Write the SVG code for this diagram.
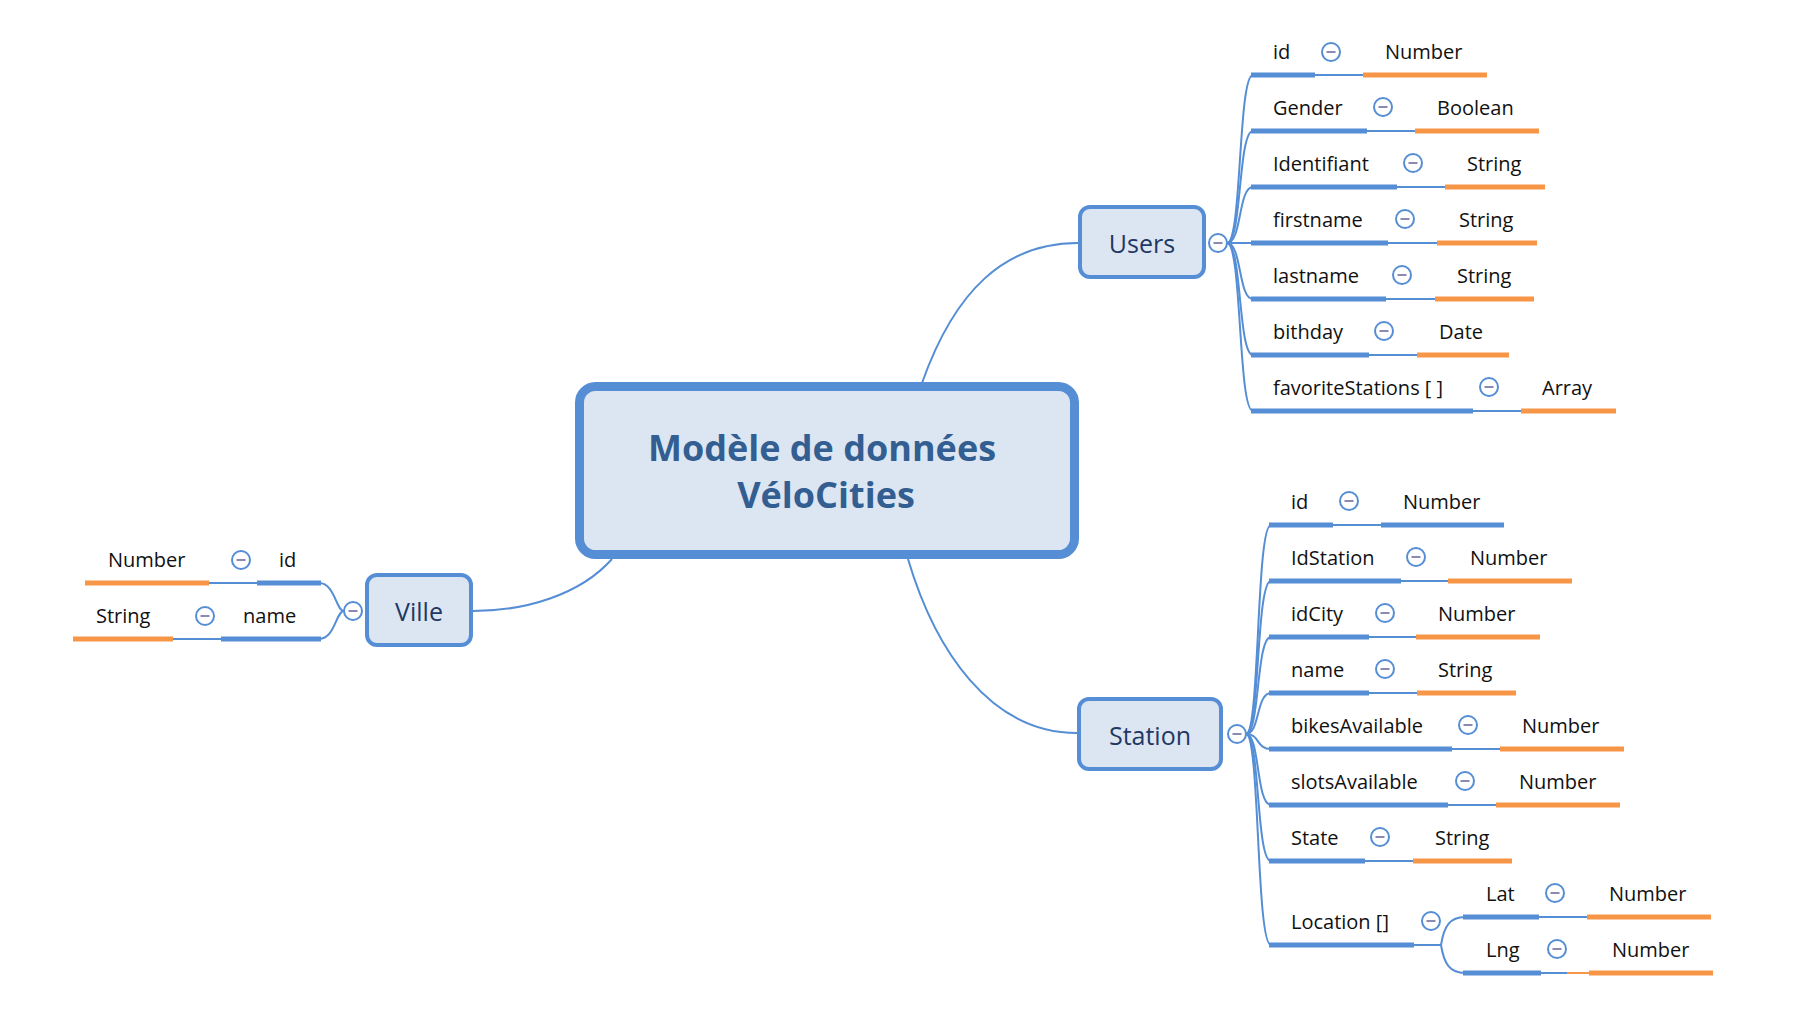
<svg xmlns="http://www.w3.org/2000/svg" xmlns:xlink="http://www.w3.org/1999/xlink" width="1814" height="1028" viewBox="0 0 1814 1028">
<style>
.bg{fill:#ffffff}
.con{fill:none;stroke:#558ED5;stroke-width:2}
.thin{stroke:#558ED5;stroke-width:2}
.thinO{stroke:#F79646;stroke-width:2}
.kb{stroke:#558ED5;stroke-width:5}
.vb{stroke:#F79646;stroke-width:5}
.box{fill:#DCE6F2;stroke:#558ED5}
.t{font-family:"Open Sans","Liberation Sans",sans-serif;font-size:20px;fill:#111111}
.nt{font-family:"Open Sans","Liberation Sans",sans-serif;font-size:25px;fill:#1F3864;text-anchor:middle}
.ct{font-family:"Open Sans","Liberation Sans",sans-serif;font-size:36px;font-weight:bold;fill:#335E91;text-anchor:middle}
</style>
<defs>
<g id="mc">
<circle cx="0" cy="0" r="9" fill="#ffffff" stroke="#558ED5" stroke-width="2"/>
<line x1="-4.5" y1="0" x2="4.5" y2="0" stroke="#8A8AB5" stroke-width="2"/>
</g>
</defs>
<rect class="bg" x="0" y="0" width="1814" height="1028"/>

<g id="connectors">
<path class="con" d="M922,383 C955,290 1005,243 1078,243"/>
<path class="con" d="M908,559 C935,650 990,733 1077,733"/>
<path class="con" d="M612,559 C580,595 525,611 473,611"/>
<!-- Users children -->
<path class="con" d="M1227,243 C1242,243 1238,75 1253,75"/>
<path class="con" d="M1227,243 C1242,243 1238,131 1253,131"/>
<path class="con" d="M1227,243 C1242,243 1238,187 1253,187"/>
<path class="con" d="M1227,243 L1253,243"/>
<path class="con" d="M1227,243 C1242,243 1238,299 1253,299"/>
<path class="con" d="M1227,243 C1242,243 1238,355 1253,355"/>
<path class="con" d="M1227,243 C1242,243 1238,411 1253,411"/>
<!-- Station children -->
<path class="con" d="M1246,734 C1260,734 1256,525 1271,525"/>
<path class="con" d="M1246,734 C1260,734 1256,581 1271,581"/>
<path class="con" d="M1246,734 C1260,734 1256,637 1271,637"/>
<path class="con" d="M1246,734 C1260,734 1256,693 1271,693"/>
<path class="con" d="M1246,734 C1260,734 1256,749 1271,749"/>
<path class="con" d="M1246,734 C1260,734 1256,805 1271,805"/>
<path class="con" d="M1246,734 C1260,734 1256,861 1271,861"/>
<path class="con" d="M1246,734 C1260,734 1256,945 1271,945"/>
<!-- Location children -->
<path class="con" d="M1414,945 L1441,945 C1444,926 1450,917 1465,917"/>
<path class="con" d="M1441,945 C1444,964 1450,973 1465,973"/>
<!-- Ville children -->
<path class="con" d="M319,583 C335,583 336,611 344,611"/>
<path class="con" d="M319,639 C335,639 336,611 344,611"/>
</g>

<g id="central">
<rect class="box" x="579.5" y="386.5" width="495" height="168" rx="16" stroke-width="9"/>
<text class="ct" x="822" y="461">Modèle de données</text>
<text class="ct" x="826" y="508">VéloCities</text>
</g>

<g id="users">
<rect class="box" x="1080" y="207" width="124" height="70" rx="10" stroke-width="4"/>
<text class="nt" x="1142" y="253">Users</text>
<use xlink:href="#mc" href="#mc" x="1218" y="243"/>
</g>

<g id="station">
<rect class="box" x="1079" y="699" width="142" height="70" rx="10" stroke-width="4"/>
<text class="nt" x="1150" y="745">Station</text>
<use xlink:href="#mc" href="#mc" x="1237" y="734"/>
</g>

<g id="ville">
<rect class="box" x="367" y="575" width="104" height="70" rx="10" stroke-width="4"/>
<text class="nt" x="419" y="621">Ville</text>
<use xlink:href="#mc" href="#mc" x="353" y="611"/>
</g>

<!-- Users attributes -->
<g id="users-id">
<line class="kb" x1="1251" y1="75" x2="1315" y2="75"/><line class="thin" x1="1315" y1="75" x2="1363" y2="75"/><line class="vb" x1="1363" y1="75" x2="1487" y2="75"/>
<text class="t" x="1273" y="59">id</text><use xlink:href="#mc" href="#mc" x="1331" y="52"/><text class="t" x="1385" y="59">Number</text>
</g>
<g id="users-gender">
<line class="kb" x1="1251" y1="131" x2="1367" y2="131"/><line class="thin" x1="1367" y1="131" x2="1415" y2="131"/><line class="vb" x1="1415" y1="131" x2="1539" y2="131"/>
<text class="t" x="1273" y="115">Gender</text><use xlink:href="#mc" href="#mc" x="1383" y="107"/><text class="t" x="1437" y="115">Boolean</text>
</g>
<g id="users-identifiant">
<line class="kb" x1="1251" y1="187" x2="1397" y2="187"/><line class="thin" x1="1397" y1="187" x2="1445" y2="187"/><line class="vb" x1="1445" y1="187" x2="1545" y2="187"/>
<text class="t" x="1273" y="171">Identifiant</text><use xlink:href="#mc" href="#mc" x="1413" y="163"/><text class="t" x="1467" y="171">String</text>
</g>
<g id="users-firstname">
<line class="kb" x1="1251" y1="243" x2="1388" y2="243"/><line class="thin" x1="1388" y1="243" x2="1437" y2="243"/><line class="vb" x1="1437" y1="243" x2="1537" y2="243"/>
<text class="t" x="1273" y="227">firstname</text><use xlink:href="#mc" href="#mc" x="1405" y="219"/><text class="t" x="1459" y="227">String</text>
</g>
<g id="users-lastname">
<line class="kb" x1="1251" y1="299" x2="1386" y2="299"/><line class="thin" x1="1386" y1="299" x2="1435" y2="299"/><line class="vb" x1="1435" y1="299" x2="1534" y2="299"/>
<text class="t" x="1273" y="283">lastname</text><use xlink:href="#mc" href="#mc" x="1402" y="275"/><text class="t" x="1457" y="283">String</text>
</g>
<g id="users-bithday">
<line class="kb" x1="1251" y1="355" x2="1369" y2="355"/><line class="thin" x1="1369" y1="355" x2="1417" y2="355"/><line class="vb" x1="1417" y1="355" x2="1509" y2="355"/>
<text class="t" x="1273" y="339">bithday</text><use xlink:href="#mc" href="#mc" x="1384" y="331"/><text class="t" x="1439" y="339">Date</text>
</g>
<g id="users-favoritestations">
<line class="kb" x1="1251" y1="411" x2="1473" y2="411"/><line class="thin" x1="1473" y1="411" x2="1521" y2="411"/><line class="vb" x1="1521" y1="411" x2="1616" y2="411"/>
<text class="t" x="1273" y="395">favoriteStations [ ]</text><use xlink:href="#mc" href="#mc" x="1489" y="387"/><text class="t" x="1542" y="395">Array</text>
</g>

<!-- Station attributes -->
<g id="station-id">
<line class="kb" x1="1269" y1="525" x2="1333" y2="525"/><line class="thin" x1="1333" y1="525" x2="1381" y2="525"/><line class="kb" x1="1381" y1="525" x2="1504" y2="525"/>
<text class="t" x="1291" y="509">id</text><use xlink:href="#mc" href="#mc" x="1349" y="501"/><text class="t" x="1403" y="509">Number</text>
</g>
<g id="station-idstation">
<line class="kb" x1="1269" y1="581" x2="1401" y2="581"/><line class="thin" x1="1401" y1="581" x2="1448" y2="581"/><line class="vb" x1="1448" y1="581" x2="1572" y2="581"/>
<text class="t" x="1291" y="565">IdStation</text><use xlink:href="#mc" href="#mc" x="1416" y="557"/><text class="t" x="1470" y="565">Number</text>
</g>
<g id="station-idcity">
<line class="kb" x1="1269" y1="637" x2="1369" y2="637"/><line class="thin" x1="1369" y1="637" x2="1416" y2="637"/><line class="vb" x1="1416" y1="637" x2="1540" y2="637"/>
<text class="t" x="1291" y="621">idCity</text><use xlink:href="#mc" href="#mc" x="1385" y="613"/><text class="t" x="1438" y="621">Number</text>
</g>
<g id="station-name">
<line class="kb" x1="1269" y1="693" x2="1369" y2="693"/><line class="thin" x1="1369" y1="693" x2="1417" y2="693"/><line class="vb" x1="1417" y1="693" x2="1516" y2="693"/>
<text class="t" x="1291" y="677">name</text><use xlink:href="#mc" href="#mc" x="1385" y="669"/><text class="t" x="1438" y="677">String</text>
</g>
<g id="station-bikesavailable">
<line class="kb" x1="1269" y1="749" x2="1452" y2="749"/><line class="thin" x1="1452" y1="749" x2="1500" y2="749"/><line class="vb" x1="1500" y1="749" x2="1624" y2="749"/>
<text class="t" x="1291" y="733">bikesAvailable</text><use xlink:href="#mc" href="#mc" x="1468" y="725"/><text class="t" x="1522" y="733">Number</text>
</g>
<g id="station-slotsavailable">
<line class="kb" x1="1269" y1="805" x2="1448" y2="805"/><line class="thin" x1="1448" y1="805" x2="1496" y2="805"/><line class="vb" x1="1496" y1="805" x2="1620" y2="805"/>
<text class="t" x="1291" y="789">slotsAvailable</text><use xlink:href="#mc" href="#mc" x="1465" y="781"/><text class="t" x="1519" y="789">Number</text>
</g>
<g id="station-state">
<line class="kb" x1="1269" y1="861" x2="1365" y2="861"/><line class="thin" x1="1365" y1="861" x2="1413" y2="861"/><line class="vb" x1="1413" y1="861" x2="1512" y2="861"/>
<text class="t" x="1291" y="845">State</text><use xlink:href="#mc" href="#mc" x="1380" y="837"/><text class="t" x="1435" y="845">String</text>
</g>
<g id="station-location">
<line class="kb" x1="1269" y1="945" x2="1414" y2="945"/>
<text class="t" x="1291" y="929">Location []</text><use xlink:href="#mc" href="#mc" x="1431" y="921"/>
</g>
<g id="location-lat">
<line class="kb" x1="1463" y1="917" x2="1539" y2="917"/><line class="thin" x1="1539" y1="917" x2="1587" y2="917"/><line class="vb" x1="1587" y1="917" x2="1711" y2="917"/>
<text class="t" x="1486" y="901">Lat</text><use xlink:href="#mc" href="#mc" x="1555" y="893"/><text class="t" x="1609" y="901">Number</text>
</g>
<g id="location-lng">
<line class="kb" x1="1463" y1="973" x2="1541" y2="973"/><line class="thin" x1="1541" y1="973" x2="1567" y2="973"/><line class="thinO" x1="1567" y1="973" x2="1589" y2="973"/><line class="vb" x1="1589" y1="973" x2="1713" y2="973"/>
<text class="t" x="1486" y="957">Lng</text><use xlink:href="#mc" href="#mc" x="1557" y="949"/><text class="t" x="1612" y="957">Number</text>
</g>

<!-- Ville attributes -->
<g id="ville-id">
<line class="vb" x1="85" y1="583" x2="209" y2="583"/><line class="thin" x1="209" y1="583" x2="257" y2="583"/><line class="kb" x1="257" y1="583" x2="321" y2="583"/>
<text class="t" x="108" y="567">Number</text><use xlink:href="#mc" href="#mc" x="241" y="560"/><text class="t" x="279" y="567">id</text>
</g>
<g id="ville-name">
<line class="vb" x1="73" y1="639" x2="173" y2="639"/><line class="thin" x1="173" y1="639" x2="221" y2="639"/><line class="kb" x1="221" y1="639" x2="321" y2="639"/>
<text class="t" x="96" y="623">String</text><use xlink:href="#mc" href="#mc" x="205" y="616"/><text class="t" x="243" y="623">name</text>
</g>
</svg>
